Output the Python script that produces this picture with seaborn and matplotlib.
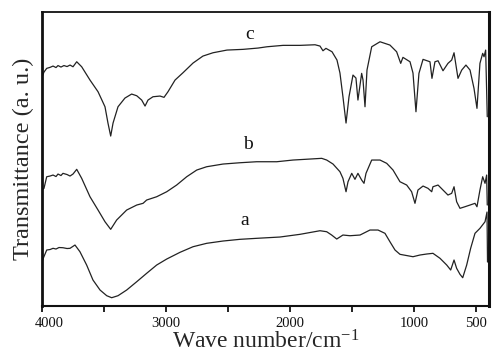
import matplotlib
matplotlib.use("Agg")
import matplotlib.pyplot as plt
import matplotlib.transforms as mtransforms
import pandas as pd
import seaborn as sns

# FTIR spectra (wavenumber in cm-1, transmittance in a.u.)
wn_c = [4000, 3984, 3962, 3935, 3911, 3887, 3871, 3847, 3823, 3798, 3774, 3750,
        3720, 3680, 3613, 3548, 3492, 3468, 3446, 3427, 3387, 3331, 3277, 3236,
        3196, 3169, 3145, 3105, 3048, 3016, 2984, 2927, 2863, 2782, 2702, 2621,
        2508, 2379, 2258, 2185, 2056, 1919, 1798, 1758, 1734, 1710, 1661, 1621,
        1597, 1573, 1548, 1524, 1492, 1468, 1452, 1422, 1411, 1395, 1379, 1341,
        1274, 1194, 1140, 1107, 1089, 1032, 1008, 984, 960, 927, 871, 855, 831,
        806, 766, 726, 696, 677, 645, 615, 581, 548, 516, 492, 468, 446, 435,
        422, 409]
t_c = [229, 234, 237.7, 238.7, 240, 238.5, 240.5, 239, 240.5, 239.5, 241, 239.3,
       244.3, 239.3, 226, 214.3, 199.3, 183, 170, 183, 199.3, 208, 212, 210.3,
       206, 200, 206, 209.3, 210, 208.7, 214.3, 226, 233.3, 243, 250, 253.3,
       256, 256.7, 258, 259.3, 260.7, 260.7, 261.3, 260, 255.3, 257.7, 254.3, 246,
       233, 209.3, 183, 209.3, 231, 228, 206, 232.7, 226, 199.3, 236, 259.3,
       264.3, 261, 254.3, 242.7, 248.7, 244.3, 233, 194.3, 232.7, 246.7, 244.3, 227.7, 244.3,
       245.3, 235.3, 242.7, 246, 253.3, 227.7, 236, 241, 236, 217.7, 197.7, 242.7, 252.7, 249.3,
       256, 189.3]

wn_b = [4000, 3984, 3962, 3935, 3911, 3887, 3871, 3847, 3831, 3798, 3774, 3750,
        3720, 3680, 3613, 3548, 3492, 3446, 3398, 3317, 3236, 3185, 3156, 3075,
        2994, 2914, 2833, 2752, 2672, 2540, 2403, 2269, 2107, 1976, 1839, 1744,
        1704, 1653, 1597, 1573, 1548, 1532, 1502, 1476, 1452, 1422, 1403, 1387,
        1341, 1274, 1220, 1169, 1113, 1059, 1019, 992, 968, 927, 887, 857, 847,
        806, 766, 726, 696, 677, 656, 629, 589, 548, 508, 492, 468, 446, 427,
        414, 409]
t_b = [116, 117.7, 129.3, 130, 131, 129.5, 132, 130.5, 132.7, 131.5, 130, 132,
       136.7, 127.7, 109.3, 96, 84.3, 76.7, 86, 96, 101, 102.7, 106, 109.3,
       114.3, 121, 129.3, 136, 139.3, 142, 143.3, 144.3, 144.3, 146, 147, 147.7,
       146, 142, 134.3, 127.7, 114.3, 124.3, 132.7, 126.7, 132.7, 126, 122.7, 132.7,
       146, 146, 142.7, 136, 124.3, 121, 114.3, 102.7, 116, 120, 117.7, 114.3, 119.3,
       121, 116, 111, 112.7, 119.3, 104.3, 97.7, 99.3, 101, 102.7, 99.3, 116, 129.3, 122.7,
       131, 101]

wn_a = [4000, 3990, 3962, 3935, 3911, 3887, 3863, 3831, 3798, 3774, 3734, 3694,
        3640, 3589, 3532, 3478, 3438, 3387, 3317, 3236, 3156, 3075, 2994, 2887,
        2782, 2672, 2540, 2403, 2269, 2081, 1919, 1758, 1704, 1664, 1623, 1573,
        1516, 1435, 1355, 1290, 1234, 1194, 1153, 1113, 1008, 952, 898, 847, 790,
        736, 704, 677, 656, 629, 607, 575, 543, 508, 468, 427, 411, 407]
t_a = [44, 47.7, 56, 56.5, 57.7, 57, 58.5, 58.3, 57.5, 57.7, 61, 54.3,
       41, 26, 16, 10.3, 8.3, 10.3, 16, 24.3, 32.7, 41, 47, 53.7,
       59.3, 62.7, 65, 66.7, 67.7, 69, 71.7, 75.3, 74.3, 71, 67, 71,
       70.3, 71, 76, 76, 72.7, 64.3, 56, 51.7, 49.3, 51, 52, 52.7, 47.7,
       41, 36, 46, 37.7, 31.7, 28.3, 41, 57.7, 72.7, 77.7, 84.3, 94, 44]

curve_names = ["a", "b", "c"]
label_pos = {"a": (2363, 77), "b": (2339, 153), "c": (2323, 263)}
tick_values = [4000, 3500, 3000, 2500, 2000, 1500, 1000, 500]
tick_labels = ["4000", "", "3000", "", "2000", "", "1000", "500"]

df = pd.concat([
    pd.DataFrame({"wavenumber": wn_a, "T": t_a, "sample": "a"}),
    pd.DataFrame({"wavenumber": wn_b, "T": t_b, "sample": "b"}),
    pd.DataFrame({"wavenumber": wn_c, "T": t_c, "sample": "c"}),
])

sns.set_theme(style="ticks")
plt.rcParams["font.family"] = ["Liberation Serif", "DejaVu Serif"]
plt.rcParams["mathtext.fontset"] = "custom"
plt.rcParams["mathtext.rm"] = "Liberation Serif"
plt.rcParams["mathtext.default"] = "rm"

fig = plt.figure(figsize=(5, 3.55), dpi=100)
ax = fig.add_axes([0.084, 0.138, 0.894, 0.828])

for name in curve_names:
    sub = df[df["sample"] == name]
    sns.lineplot(data=sub, x="wavenumber", y="T", ax=ax, color="#222222",
                 linewidth=0.9, sort=False, estimator=None, legend=False)
    lx, ly = label_pos[name]
    ax.text(lx, ly, name, fontsize=14, ha="center", va="bottom", color="#111111")

ax.set_xlim(4000, 395)
ax.set_ylim(0, 294)
ax.set_xticks(tick_values)
ax.set_xticklabels(tick_labels, fontsize=10.5)
ax.set_yticks([])
ax.tick_params(axis="x", direction="out", length=4, width=1.3, pad=4, colors="#111111")

# nudge first tick label right as in the reference
first = ax.get_xticklabels()[0]
first.set_transform(first.get_transform() + mtransforms.ScaledTranslation(7 / 100, 0, fig.dpi_scale_trans))

for side, lw in [("left", 2.0), ("right", 2.2), ("top", 1.3), ("bottom", 1.5)]:
    ax.spines[side].set_linewidth(lw)
    ax.spines[side].set_color("#111111")

ax.set_xlabel("Wave number/cm$^{-1}$", fontsize=17, labelpad=0)
ax.set_ylabel("Transmittance (a. u.)", fontsize=17.5, labelpad=6)

fig.savefig("out.png", dpi=100)
